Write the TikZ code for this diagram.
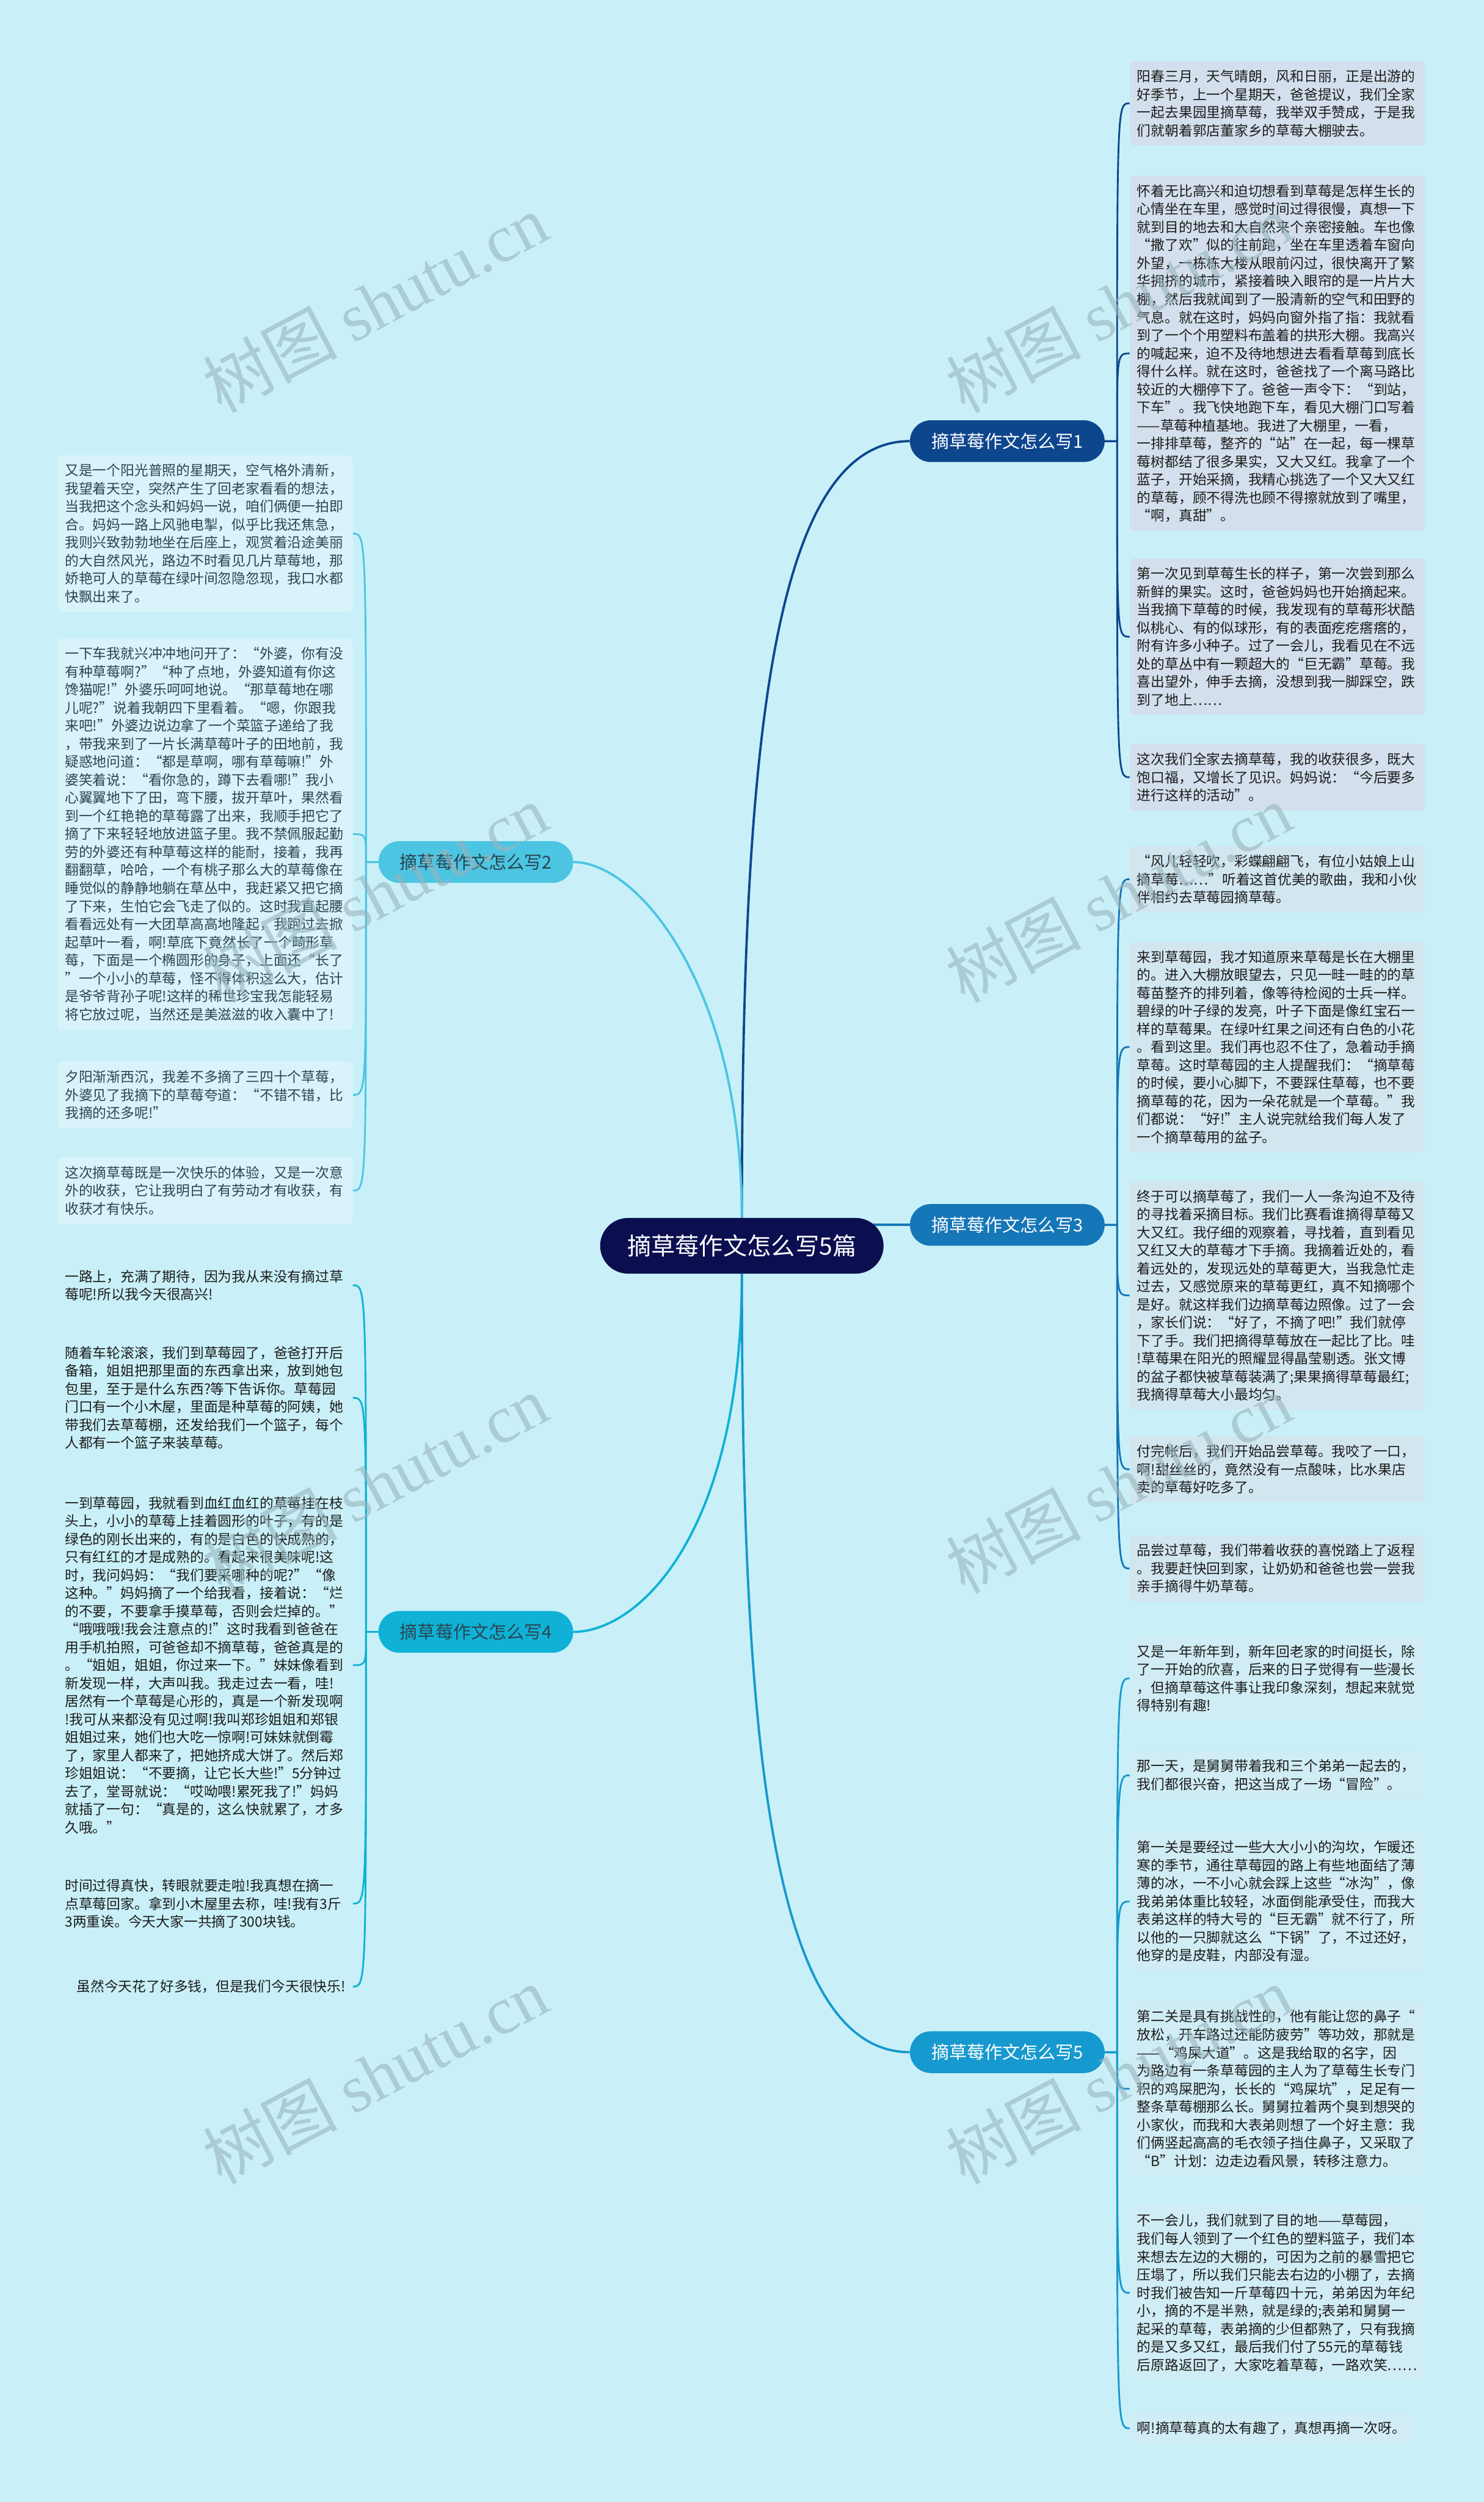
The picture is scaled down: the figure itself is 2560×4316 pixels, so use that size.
\documentclass[tikz,border=0pt]{standalone}
\usepackage{fontspec}
\setmainfont{Noto Sans CJK SC}
\newfontfamily\wmfont{Liberation Serif}
\usetikzlibrary{calc}
\definecolor{bgc}{HTML}{C9F0F8}
\definecolor{cmain}{HTML}{0B0F50}
\definecolor{c1}{HTML}{0E468E}
\definecolor{c2}{HTML}{4CC5E3}
\definecolor{c3}{HTML}{1576B8}
\definecolor{c4}{HTML}{0FB2D6}
\definecolor{c5}{HTML}{1699CE}
\definecolor{box1}{HTML}{D3DFEC}
\definecolor{box2}{HTML}{D8F4FA}
\definecolor{box3}{HTML}{D2E6F0}
\definecolor{box5}{HTML}{D0ECF4}
\definecolor{txt}{HTML}{1C1C1C}
\definecolor{txt2}{HTML}{2A4550}
\definecolor{wmc}{HTML}{98B4BC}
\pgfdeclarelayer{bgl}
\pgfdeclarelayer{background}
\pgfsetlayers{bgl,background,main}
\tikzset{
  leafbase/.style={rounded corners=4pt, align=left, inner xsep=6.25pt, inner ysep=7.5pt,
    font=\fontsize{12}{15.55}\selectfont, text=txt},
  rleaf/.style={leafbase, text width=242pt, anchor=north west},
  lleaf/.style={leafbase, text width=242pt, anchor=north east},
  f1/.style={fill=box1}, f2/.style={fill=box2, text=txt2}, f3/.style={fill=box3}, f5/.style={fill=box5},
  branch/.style={rounded corners=18pt, minimum width=168pt, minimum height=36pt, inner sep=0pt,
    font=\fontsize{15.3}{18}\selectfont},
  mainlink/.style={line width=2pt},
  leaflink/.style={line width=1.5pt},
  wm/.style={text=wmc, text opacity=0.6, font=\fontsize{58}{60}\selectfont, rotate=28, inner sep=0pt}
}
\newcommand\rlink[3]{\path (#1.east) ++(21,0) coordinate (v#1);
  \draw[leaflink,#3] (#1.east) -- (v#1) .. controls (v#1 |- #2.west) .. (#2.west);}
\newcommand\llink[3]{\path (#1.west) ++(-21,0) coordinate (v#1);
  \draw[leaflink,#3] (#1.west) -- (v#1) .. controls (v#1 |- #2.east) .. (#2.east);}
\begin{document}
\begin{tikzpicture}[x=0.5pt,y=-0.5pt]
\useasboundingbox (0,0) rectangle (2560,4316);
\begin{pgfonlayer}{bgl}\fill[bgc] (0,0) rectangle (2560,4316);\end{pgfonlayer}

% main and branches
\node[fill=cmain, text=white, rounded corners=24pt, minimum width=244.5pt, minimum height=48pt, inner sep=0pt,
  font=\fontsize{20.7}{24}\selectfont] (main) at (1280,2149) {摘草莓作文怎么写5篇};
\node[branch, fill=c1, text=white] (b1) at (1738,761) {摘草莓作文怎么写1};
\node[branch, fill=c2, text=txt2] (b2) at (821,1487) {摘草莓作文怎么写2};
\node[branch, fill=c3, text=white] (b3) at (1738,2113) {摘草莓作文怎么写3};
\node[branch, fill=c4, text=txt2] (b4) at (821,2815) {摘草莓作文怎么写4};
\node[branch, fill=c5, text=white] (b5) at (1738,3540) {摘草莓作文怎么写5};

% right leaves, branch 1
\node[rleaf,f1] (r1a) at (1949,105) {阳春三月，天气晴朗，风和日丽，正是出游的\\好季节，上一个星期天，爸爸提议，我们全家\\一起去果园里摘草莓，我举双手赞成，于是我\\们就朝着郭店董家乡的草莓大棚驶去。};
\node[rleaf,f1] (r1b) at (1949,303) {怀着无比高兴和迫切想看到草莓是怎样生长的\\心情坐在车里，感觉时间过得很慢，真想一下\\就到目的地去和大自然来个亲密接触。车也像\\“撒了欢”似的往前跑，坐在车里透着车窗向\\外望，一栋栋大楼从眼前闪过，很快离开了繁\\华拥挤的城市，紧接着映入眼帘的是一片片大\\棚，然后我就闻到了一股清新的空气和田野的\\气息。就在这时，妈妈向窗外指了指：我就看\\到了一个个用塑料布盖着的拱形大棚。我高兴\\的喊起来，迫不及待地想进去看看草莓到底长\\得什么样。就在这时，爸爸找了一个离马路比\\较近的大棚停下了。爸爸一声令下：“到站，\\下车”。我飞快地跑下车，看见大棚门口写着\\——草莓种植基地。我进了大棚里，一看，\\一排排草莓，整齐的“站”在一起，每一棵草\\莓树都结了很多果实，又大又红。我拿了一个\\蓝子，开始采摘，我精心挑选了一个又大又红\\的草莓，顾不得洗也顾不得擦就放到了嘴里，\\“啊，真甜”。};
\node[rleaf,f1] (r1c) at (1949,963) {第一次见到草莓生长的样子，第一次尝到那么\\新鲜的果实。这时，爸爸妈妈也开始摘起来。\\当我摘下草莓的时候，我发现有的草莓形状酷\\似桃心、有的似球形，有的表面疙疙瘩瘩的，\\附有许多小种子。过了一会儿，我看见在不远\\处的草丛中有一颗超大的“巨无霸”草莓。我\\喜出望外，伸手去摘，没想到我一脚踩空，跌\\到了地上……};
\node[rleaf,f1] (r1d) at (1949,1283) {这次我们全家去摘草莓，我的收获很多，既大\\饱口福，又增长了见识。妈妈说：“今后要多\\进行这样的活动”。};

% branch 3
\node[rleaf,f3] (r3a) at (1949,1459) {“风儿轻轻吹，彩蝶翩翩飞，有位小姑娘上山\\摘草莓……”听着这首优美的歌曲，我和小伙\\伴相约去草莓园摘草莓。};
\node[rleaf,f3] (r3b) at (1949,1624) {来到草莓园，我才知道原来草莓是长在大棚里\\的。进入大棚放眼望去，只见一畦一畦的的草\\莓苗整齐的排列着，像等待检阅的士兵一样。\\碧绿的叶子绿的发亮，叶子下面是像红宝石一\\样的草莓果。在绿叶红果之间还有白色的小花\\。看到这里。我们再也忍不住了，急着动手摘\\草莓。这时草莓园的主人提醒我们：“摘草莓\\的时候，要小心脚下，不要踩住草莓，也不要\\摘草莓的花，因为一朵花就是一个草莓。”我\\们都说：“好!”主人说完就给我们每人发了\\一个摘草莓用的盆子。};
\node[rleaf,f3] (r3c) at (1949,2037) {终于可以摘草莓了，我们一人一条沟迫不及待\\的寻找着采摘目标。我们比赛看谁摘得草莓又\\大又红。我仔细的观察着，寻找着，直到看见\\又红又大的草莓才下手摘。我摘着近处的，看\\着远处的，发现远处的草莓更大，当我急忙走\\过去，又感觉原来的草莓更红，真不知摘哪个\\是好。就这样我们边摘草莓边照像。过了一会\\，家长们说：“好了，不摘了吧!”我们就停\\下了手。我们把摘得草莓放在一起比了比。哇\\!草莓果在阳光的照耀显得晶莹剔透。张文博\\的盆子都快被草莓装满了;果果摘得草莓最红;\\我摘得草莓大小最均匀。};
\node[rleaf,f3] (r3d) at (1949,2477) {付完帐后，我们开始品尝草莓。我咬了一口，\\啊!甜丝丝的，竟然没有一点酸味，比水果店\\卖的草莓好吃多了。};
\node[rleaf,f3] (r3e) at (1949,2648) {品尝过草莓，我们带着收获的喜悦踏上了返程\\。我要赶快回到家，让奶奶和爸爸也尝一尝我\\亲手摘得牛奶草莓。};

% branch 5
\node[rleaf,f5] (r5a) at (1949,2822) {又是一年新年到，新年回老家的时间挺长，除\\了一开始的欣喜，后来的日子觉得有一些漫长\\，但摘草莓这件事让我印象深刻，想起来就觉\\得特别有趣!};
\node[rleaf,f5] (r5b) at (1949,3020) {那一天，是舅舅带着我和三个弟弟一起去的，\\我们都很兴奋，把这当成了一场“冒险”。};
\node[rleaf,f5] (r5c) at (1949,3160) {第一关是要经过一些大大小小的沟坎，乍暖还\\寒的季节，通往草莓园的路上有些地面结了薄\\薄的冰，一不小心就会踩上这些“冰沟”，像\\我弟弟体重比较轻，冰面倒能承受住，而我大\\表弟这样的特大号的“巨无霸”就不行了，所\\以他的一只脚就这么“下锅”了，不过还好，\\他穿的是皮鞋，内部没有湿。};
\node[rleaf,f5] (r5d) at (1949,3452) {第二关是具有挑战性的，他有能让您的鼻子“\\放松，开车路过还能防疲劳”等功效，那就是\\——“鸡屎大道”。这是我给取的名字，因\\为路边有一条草莓园的主人为了草莓生长专门\\积的鸡屎肥沟，长长的“鸡屎坑”，足足有一\\整条草莓棚那么长。舅舅拉着两个臭到想哭的\\小家伙，而我和大表弟则想了一个好主意：我\\们俩竖起高高的毛衣领子挡住鼻子，又采取了\\“B”计划：边走边看风景，转移注意力。};
\node[rleaf,f5] (r5e) at (1949,3804) {不一会儿，我们就到了目的地——草莓园，\\我们每人领到了一个红色的塑料篮子，我们本\\来想去左边的大棚的，可因为之前的暴雪把它\\压塌了，所以我们只能去右边的小棚了，去摘\\时我们被告知一斤草莓四十元，弟弟因为年纪\\小，摘的不是半熟，就是绿的;表弟和舅舅一\\起采的草莓，表弟摘的少但都熟了，只有我摘\\的是又多又红，最后我们付了55元的草莓钱\\后原路返回了，大家吃着草莓，一路欢笑……};
\node[leafbase,f5,anchor=north west] (r5f) at (1949,4162) {啊!摘草莓真的太有趣了，真想再摘一次呀。};

% left leaves, branch 2
\node[lleaf,f2] (l2a) at (609,785) {又是一个阳光普照的星期天，空气格外清新，\\我望着天空，突然产生了回老家看看的想法，\\当我把这个念头和妈妈一说，咱们俩便一拍即\\合。妈妈一路上风驰电掣，似乎比我还焦急，\\我则兴致勃勃地坐在后座上，观赏着沿途美丽\\的大自然风光，路边不时看见几片草莓地，那\\娇艳可人的草莓在绿叶间忽隐忽现，我口水都\\快飘出来了。};
\node[lleaf,f2] (l2b) at (609,1101) {一下车我就兴冲冲地问开了：“外婆，你有没\\有种草莓啊?”“种了点地，外婆知道有你这\\馋猫呢!”外婆乐呵呵地说。“那草莓地在哪\\儿呢?”说着我朝四下里看着。“嗯，你跟我\\来吧!”外婆边说边拿了一个菜篮子递给了我\\，带我来到了一片长满草莓叶子的田地前，我\\疑惑地问道：“都是草啊，哪有草莓嘛!”外\\婆笑着说：“看你急的，蹲下去看哪!”我小\\心翼翼地下了田，弯下腰，拔开草叶，果然看\\到一个红艳艳的草莓露了出来，我顺手把它了\\摘了下来轻轻地放进篮子里。我不禁佩服起勤\\劳的外婆还有种草莓这样的能耐，接着，我再\\翻翻草，哈哈，一个有桃子那么大的草莓像在\\睡觉似的静静地躺在草丛中，我赶紧又把它摘\\了下来，生怕它会飞走了似的。这时我直起腰\\看看远处有一大团草高高地隆起，我跑过去掀\\起草叶一看，啊!草底下竟然长了一个畸形草\\莓，下面是一个椭圆形的身子，上面还“长了\\”一个小小的草莓，怪不得体积这么大，估计\\是爷爷背孙子呢!这样的稀世珍宝我怎能轻易\\将它放过呢，当然还是美滋滋的收入囊中了!};
\node[lleaf,f2] (l2c) at (609,1831) {夕阳渐渐西沉，我差不多摘了三四十个草莓，\\外婆见了我摘下的草莓夸道：“不错不错，比\\我摘的还多呢!”};
\node[lleaf,f2] (l2d) at (609,1996) {这次摘草莓既是一次快乐的体验，又是一次意\\外的收获，它让我明白了有劳动才有收获，有\\收获才有快乐。};

% branch 4 (no boxes)
\node[lleaf] (l4a) at (609,2175) {一路上，充满了期待，因为我从来没有摘过草\\莓呢!所以我今天很高兴!};
\node[lleaf] (l4b) at (609,2307) {随着车轮滚滚，我们到草莓园了，爸爸打开后\\备箱，姐姐把那里面的东西拿出来，放到她包\\包里，至于是什么东西?等下告诉你。草莓园\\门口有一个小木屋，里面是种草莓的阿姨，她\\带我们去草莓棚，还发给我们一个篮子，每个\\人都有一个篮子来装草莓。};
\node[lleaf] (l4c) at (609,2566) {一到草莓园，我就看到血红血红的草莓挂在枝\\头上，小小的草莓上挂着圆形的叶子，有的是\\绿色的刚长出来的，有的是白色的快成熟的，\\只有红红的才是成熟的。看起来很美味呢!这\\时，我问妈妈：“我们要采哪种的呢?”“像\\这种。”妈妈摘了一个给我看，接着说：“烂\\的不要，不要拿手摸草莓，否则会烂掉的。”\\“哦哦哦!我会注意点的!”这时我看到爸爸在\\用手机拍照，可爸爸却不摘草莓，爸爸真是的\\。“姐姐，姐姐，你过来一下。”妹妹像看到\\新发现一样，大声叫我。我走过去一看，哇!\\居然有一个草莓是心形的，真是一个新发现啊\\!我可从来都没有见过啊!我叫郑珍姐姐和郑银\\姐姐过来，她们也大吃一惊啊!可妹妹就倒霉\\了，家里人都来了，把她挤成大饼了。然后郑\\珍姐姐说：“不要摘，让它长大些!”5分钟过\\去了，堂哥就说：“哎呦喂!累死我了!”妈妈\\就插了一句：“真是的，这么快就累了，才多\\久哦。”};
\node[lleaf] (l4d) at (609,3226) {时间过得真快，转眼就要走啦!我真想在摘一\\点草莓回家。拿到小木屋里去称，哇!我有3斤\\3两重诶。今天大家一共摘了300块钱。};
\node[leafbase,anchor=north east] (l4e) at (609,3400) {虽然今天花了好多钱，但是我们今天很快乐!};

% connectors
\begin{pgfonlayer}{background}
\draw[mainlink,c1] (main.north) .. controls (1280,1300) and (1330,761) .. (b1.west);
\draw[mainlink,c2] (main.north) .. controls (1280,1700) and (1100,1487) .. (b2.east);
\draw[mainlink,c3] (main.center |- b3.west) -- (b3.west);
\draw[mainlink,c4] (main.south) .. controls (1280,2650) and (1100,2815) .. (b4.east);
\draw[mainlink,c5] (main.south) .. controls (1280,3000) and (1330,3540) .. (b5.west);
\rlink{b1}{r1a}{c1}\rlink{b1}{r1b}{c1}\rlink{b1}{r1c}{c1}\rlink{b1}{r1d}{c1}
\rlink{b3}{r3a}{c3}\rlink{b3}{r3b}{c3}\rlink{b3}{r3c}{c3}\rlink{b3}{r3d}{c3}\rlink{b3}{r3e}{c3}
\rlink{b5}{r5a}{c5}\rlink{b5}{r5b}{c5}\rlink{b5}{r5c}{c5}\rlink{b5}{r5d}{c5}\rlink{b5}{r5e}{c5}\rlink{b5}{r5f}{c5}
\llink{b2}{l2a}{c2}\llink{b2}{l2b}{c2}\llink{b2}{l2c}{c2}\llink{b2}{l2d}{c2}
\llink{b4}{l4a}{c4}\llink{b4}{l4b}{c4}\llink{b4}{l4c}{c4}\llink{b4}{l4d}{c4}\llink{b4}{l4e}{c4}
\end{pgfonlayer}

% watermarks
\foreach \wy [count=\i] in {523,1541,2560,3579}{
  \node[wm] (wma\i) at (647,\wy) {树图 {\wmfont shutu.cn}};
  \node[wm] (wmb\i) at (1930,\wy) {树图 {\wmfont shutu.cn}};
}
\end{tikzpicture}
\end{document}
